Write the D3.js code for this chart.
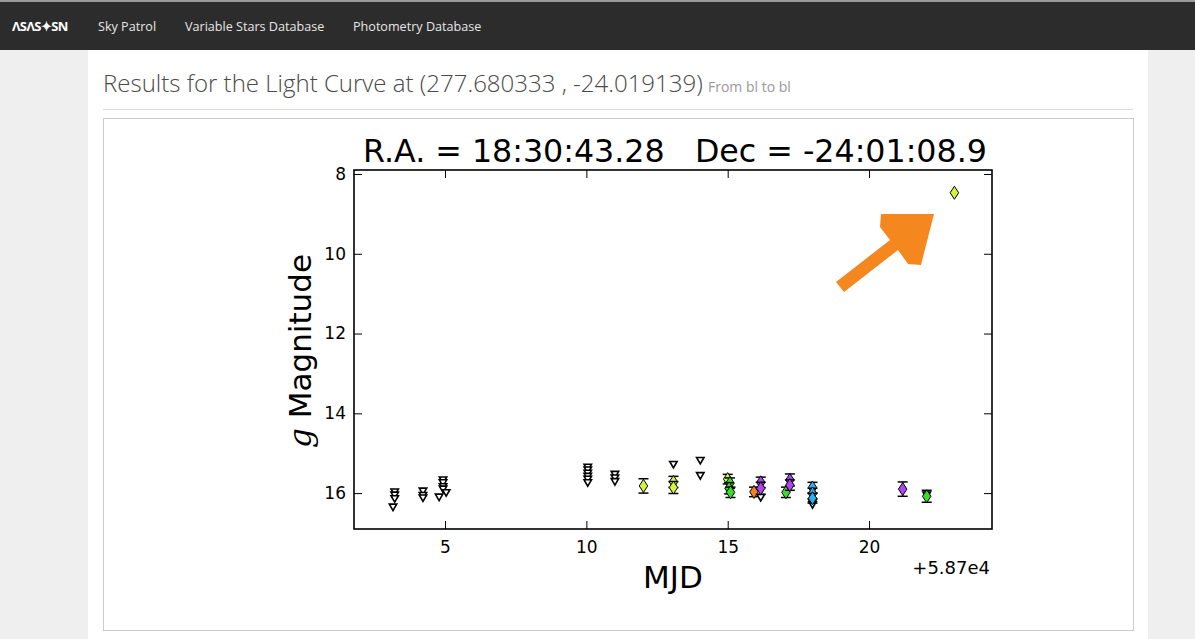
<!DOCTYPE html>
<html>
<head>
<meta charset="utf-8">
<script src="https://cdn.jsdelivr.net/npm/d3@7"></script>
<style>
  html, body { margin: 0; padding: 0; background: #efefef; }
  svg { display: block; }
</style>
</head>
<body>
<svg id="page" width="1195" height="639"></svg>
<script>
// ---------------- DATA ----------------
const mjdOffset = 58700;                 // shown as "+5.87e4"
const navLinks = ["Sky Patrol", "Variable Stars Database", "Photometry Database"];
const headingText = "Results for the Light Curve at (277.680333 , -24.019139)";
const headingSmall = "From bl to bl";
const chartTitle = "R.A. = 18:30:43.28   Dec = -24:01:08.9";

const xTicks = [5, 10, 15, 20];
const yTicks = [8, 10, 12, 14, 16];

// upper limits (open inverted triangles): MJD - 58700, magnitude
const limitMJD = [3.22, 3.22, 3.22, 3.16, 4.22, 4.22, 4.22, 4.79, 4.93, 4.93, 4.93, 4.93, 5.04,
                  10.05, 10.05, 10.05, 10.05, 10.05, 10.05, 11.01, 11.01, 11.01, 13.08, 14.03, 14.03,
                  16.17, 18.0, 18.0, 22.04];
const limitMag = [15.95, 16.03, 16.12, 16.33, 15.93, 16.04, 16.10, 16.08, 15.65, 15.72, 15.82, 15.88, 15.97,
                  15.33, 15.40, 15.48, 15.56, 15.63, 15.72, 15.51, 15.60, 15.69, 15.26, 15.16, 15.54,
                  16.09, 16.22, 16.27, 16.03];

// detections (diamonds with error bars)
const detMJD  = [12.02, 13.08, 13.08, 15.00, 15.08, 15.05, 15.10, 15.93, 16.17, 16.17, 17.06, 17.20, 17.20, 18.00, 18.00, 18.00, 21.19, 22.04, 23.02];
const detMag  = [15.82, 15.72, 15.86, 15.65, 15.75, 15.88, 15.98, 15.97, 15.73, 15.88, 15.98, 15.67, 15.80, 15.86, 16.01, 16.13, 15.90, 16.08, 8.47];
const detErr  = [0.18, 0.14, 0.15, 0.12, 0.13, 0.14, 0.13, 0.12, 0.13, 0.15, 0.13, 0.15, 0.13, 0.13, 0.13, 0.12, 0.18, 0.15, 0.03];
const detCam  = ["bl", "bl", "bl", "bl", "bm", "bm", "bm", "bn", "bo", "bo", "bm", "bo", "bo", "bp", "bp", "bp", "bo", "bm", "bl"];
const camColor = { bl: "#d2f53c", bm: "#3edc2a", bn: "#f58220", bo: "#b044f5", bp: "#2ab0ee" };

// ---------------- PAGE ----------------
const svg = d3.select("#page");
const W = 1195, H = 639;

svg.append("rect").attr("x", 0).attr("y", 0).attr("width", W).attr("height", H).attr("fill", "#efefef");
svg.append("rect").attr("x", 88).attr("y", 50).attr("width", 1060).attr("height", H - 50).attr("fill", "#ffffff");
svg.append("rect").attr("x", 0).attr("y", 0).attr("width", W).attr("height", 50).attr("fill", "#2c2c2c");
svg.append("rect").attr("x", 0).attr("y", 0).attr("width", W).attr("height", 2).attr("fill", "#9a9a9a");

// logo
svg.append("text").attr("x", 12).attr("y", 31)
  .attr("font-family", "'Open Sans', sans-serif").attr("font-size", 13).attr("font-weight", 700)
  .attr("fill", "#ffffff").attr("letter-spacing", -0.6)
  .text("ΛSΛS✦SN");

const navX = [98, 185, 353];
svg.selectAll("text.nav").data(navLinks).join("text").attr("class", "nav")
  .attr("x", (d, i) => navX[i]).attr("y", 31)
  .attr("font-family", "'Open Sans', sans-serif").attr("font-size", 12.6)
  .attr("fill", "#e6e6e6").text(d => d);

// heading
const h = svg.append("text").attr("x", 103).attr("y", 92)
  .attr("font-family", "'Open Sans', sans-serif").attr("font-size", 22).attr("font-weight", 300)
  .attr("fill", "#4a4a4a").text(headingText);
const hw = h.node().getComputedTextLength();
h.attr("font-size", 22 * 600 / hw);
svg.append("text").attr("x", 708).attr("y", 92)
  .attr("font-family", "'Open Sans', sans-serif").attr("font-size", 14)
  .attr("fill", "#999999").text(headingSmall);

svg.append("line").attr("x1", 103).attr("x2", 1133).attr("y1", 109.5).attr("y2", 109.5)
  .attr("stroke", "#dddddd");
svg.append("rect").attr("x", 103.5).attr("y", 118.5).attr("width", 1030).attr("height", 512)
  .attr("fill", "#ffffff").attr("stroke", "#cccccc");

// ---------------- CHART ----------------
const plot = { left: 354, right: 992, top: 170, bottom: 529 };
const x = d3.scaleLinear().domain([1.78, 24.35]).range([plot.left, plot.right]);
const y = d3.scaleLinear().domain([7.9, 16.9]).range([plot.top, plot.bottom]);
const chartFont = "'DejaVu Sans', sans-serif";

const g = svg.append("g");

// title
const t = g.append("text").attr("x", 675).attr("y", 162).attr("text-anchor", "middle")
  .attr("font-family", chartFont).attr("font-size", 32).attr("fill", "#000")
  .attr("xml:space", "preserve").style("white-space", "pre").text(chartTitle);
const tw = t.node().getComputedTextLength();
t.attr("font-size", 32 * 624 / tw);

// axes with inward ticks
const tickLen = 8;
const axB = g.append("g").attr("transform", `translate(0,${plot.bottom})`)
  .call(d3.axisBottom(x).tickValues(xTicks).tickSizeInner(-tickLen).tickSizeOuter(0).tickPadding(12).tickFormat(d3.format("d")));
const axT = g.append("g").attr("transform", `translate(0,${plot.top})`)
  .call(d3.axisTop(x).tickValues(xTicks).tickSizeInner(-tickLen).tickSizeOuter(0).tickFormat(""));
const axL = g.append("g").attr("transform", `translate(${plot.left},0)`)
  .call(d3.axisLeft(y).tickValues(yTicks).tickSizeInner(-tickLen).tickSizeOuter(0).tickPadding(8).tickFormat(d3.format("d")));
const axR = g.append("g").attr("transform", `translate(${plot.right},0)`)
  .call(d3.axisRight(y).tickValues(yTicks).tickSizeInner(-tickLen).tickSizeOuter(0).tickFormat(""));
[axB, axT, axL, axR].forEach(a => {
  a.select(".domain").remove();
  a.selectAll(".tick line").attr("stroke", "#000").attr("stroke-width", 1);
  a.selectAll(".tick text").attr("font-family", chartFont).attr("font-size", 17).attr("fill", "#000");
});
axB.selectAll(".tick text").attr("dy", "0.71em");

g.append("rect").attr("x", plot.left).attr("y", plot.top)
  .attr("width", plot.right - plot.left).attr("height", plot.bottom - plot.top)
  .attr("fill", "none").attr("stroke", "#000").attr("stroke-width", 1.6);

// offset text
g.append("text").attr("x", plot.right - 2).attr("y", 574).attr("text-anchor", "end")
  .attr("font-family", chartFont).attr("font-size", 18).attr("fill", "#000")
  .text("+" + (mjdOffset / 1e4).toFixed(2) + "e4");

// axis labels
g.append("text").attr("x", 673).attr("y", 588).attr("text-anchor", "middle")
  .attr("font-family", chartFont).attr("font-size", 31).attr("fill", "#000").text("MJD");
const yl = g.append("text").attr("transform", "translate(311,351) rotate(-90)").attr("text-anchor", "middle")
  .attr("font-family", chartFont).attr("font-size", 31).attr("fill", "#000");
yl.append("tspan").attr("font-family", "'DejaVu Serif', serif").attr("font-style", "italic").text("g");
yl.append("tspan").text(" Magnitude");

// clip
svg.append("clipPath").attr("id", "clip").append("rect")
  .attr("x", plot.left).attr("y", plot.top).attr("width", plot.right - plot.left).attr("height", plot.bottom - plot.top);
const marks = g.append("g").attr("clip-path", "url(#clip)");

// upper limits
const limits = limitMJD.map((m, i) => ({ mjd: m, mag: limitMag[i] }));
const tri = d3.symbol().type(d3.symbolTriangle).size(24);
marks.selectAll("path.lim").data(limits).join("path").attr("class", "lim")
  .attr("d", tri)
  .attr("transform", d => `translate(${x(d.mjd)},${y(d.mag)}) rotate(180)`)
  .attr("fill", "#ffffff").attr("stroke", "#000").attr("stroke-width", 1.6);

// detections
const dets = detMJD.map((m, i) => ({ mjd: m, mag: detMag[i], err: detErr[i], cam: detCam[i] }));
const thinDiamond = {
  draw(ctx, size) {
    const hh = Math.sqrt(size) / 2, ww = hh * 0.65;
    ctx.moveTo(0, -hh); ctx.lineTo(ww, 0); ctx.lineTo(0, hh); ctx.lineTo(-ww, 0); ctx.closePath();
  }
};
const eb = marks.selectAll("g.det").data(dets).join("g").attr("class", "det");
eb.append("line").attr("x1", d => x(d.mjd)).attr("x2", d => x(d.mjd))
  .attr("y1", d => y(d.mag - d.err)).attr("y2", d => y(d.mag + d.err))
  .attr("stroke", "#000").attr("stroke-width", 1.2);
eb.filter(d => d.err > 0.05).selectAll("line.cap").data(d => [d.mag - d.err, d.mag + d.err].map(v => ({ mjd: d.mjd, v })))
  .join("line").attr("class", "cap")
  .attr("x1", d => x(d.mjd) - 5).attr("x2", d => x(d.mjd) + 5)
  .attr("y1", d => y(d.v)).attr("y2", d => y(d.v))
  .attr("stroke", "#000").attr("stroke-width", 1.5);
eb.append("path").attr("d", d3.symbol().type(thinDiamond).size(170))
  .attr("transform", d => `translate(${x(d.mjd)},${y(d.mag)})`)
  .attr("fill", d => camColor[d.cam]).attr("stroke", "#000").attr("stroke-width", 1);

// annotation arrow (orange)
const arrowPts = [[934, 214], [921, 265], [908, 264], [898, 250], [844, 292], [836, 282], [890, 240], [880, 227], [881, 214]];
svg.append("path").attr("d", d3.line()(arrowPts) + "Z").attr("fill", "#f5871f");
</script>
</body>
</html>
